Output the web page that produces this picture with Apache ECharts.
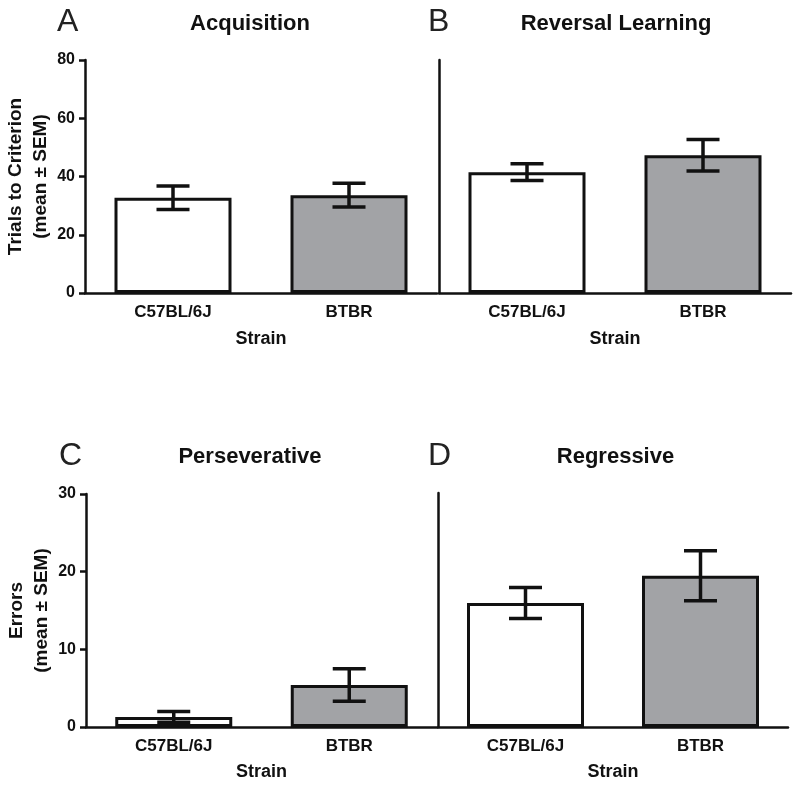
<!DOCTYPE html>
<html><head><meta charset="utf-8">
<script src="https://cdn.jsdelivr.net/npm/echarts@6/dist/echarts.min.js"></script>
<style>html,body{margin:0;padding:0;background:#fff}#c{width:800px;height:787px}</style>
</head><body><div id="c"></div>
<script>
const categories = ['C57BL/6J', 'BTBR'];
const panelLetters = ['A', 'B', 'C', 'D'];
const panelTitles = ['Acquisition', 'Reversal Learning', 'Perseverative', 'Regressive'];
const acqMean = [32.7, 33.6];
const acqSem = [4.0, 4.1];
const revMean = [41.5, 47.3];
const revSem = [2.9, 5.4];
const persMean = [1.3, 5.4];
const persSem = [0.7, 2.1];
const regrMean = [15.9, 19.4];
const regrSem = [2.0, 3.2];
const topTicks = [0, 20, 40, 60, 80];
const bottomTicks = [0, 10, 20, 30];

const FONT = '"Liberation Sans", Arial, sans-serif';
const barColors = ['#ffffff', '#a2a3a6'];
const panels = [
  {mean: acqMean, sem: acqSem, ticks: topTicks, yName: 'Trials to Criterion\n(mean ± SEM)', showY: true},
  {mean: revMean, sem: revSem, ticks: topTicks, yName: '', showY: false},
  {mean: persMean, sem: persSem, ticks: bottomTicks, yName: 'Errors\n(mean ± SEM)', showY: true},
  {mean: regrMean, sem: regrSem, ticks: bottomTicks, yName: '', showY: false}
];
const grids = [
  {left: 85, right: 363, top: 60, bottom: 494},
  {left: 439, right: 9, top: 60, bottom: 494},
  {left: 86, right: 363, top: 494, bottom: 60},
  {left: 438, right: 12, top: 493, bottom: 60}
];
const titlePos = [
  {letter: [52, 1], title: [245, 8]},
  {letter: [423, 1], title: [611, 8]},
  {letter: [54, 435], title: [245, 441]},
  {letter: [423, 435], title: [610.5, 441]}
];

const option = {
  backgroundColor: '#ffffff',
  animation: false,
  title: [],
  grid: grids.map(g => Object.assign({containLabel: false, outerBoundsMode: 'none'}, g)),
  xAxis: [], yAxis: [], series: []
};

panels.forEach((p, i) => {
  option.title.push({text: panelLetters[i], left: titlePos[i].letter[0], top: titlePos[i].letter[1],
    textStyle: {fontFamily: FONT, fontWeight: 'normal', fontSize: 32, color: '#222'}});
  option.title.push({text: panelTitles[i], left: titlePos[i].title[0], top: titlePos[i].title[1], textAlign: 'center',
    textStyle: {fontFamily: FONT, fontWeight: 'bold', fontSize: 22, color: '#111'}});
  option.xAxis.push({
    type: 'category', gridIndex: i, data: categories,
    name: 'Strain', nameLocation: 'middle', nameGap: i < 2 ? 37 : 36,
    nameTextStyle: {fontFamily: FONT, fontWeight: 'bold', fontSize: 18, color: '#111'},
    axisLine: {lineStyle: {color: '#111', width: 2.5}},
    axisTick: {alignWithLabel: true, length: 8, lineStyle: {color: '#111', width: 2.5}},
    axisLabel: {fontFamily: FONT, fontWeight: 'bold', fontSize: 17, color: '#111', margin: 11},
    splitLine: {show: false}
  });
  const tk = p.ticks;
  option.yAxis.push({
    type: 'value', gridIndex: i, min: tk[0], max: tk[tk.length - 1], interval: tk[1] - tk[0],
    name: p.yName, nameLocation: 'middle', nameGap: 28, nameRotate: 90,
    nameTextStyle: {fontFamily: FONT, fontWeight: 'bold', fontSize: 19, color: '#111', lineHeight: 25},
    axisLine: {show: true, lineStyle: {color: '#111', width: 2.5}},
    axisTick: {show: p.showY, length: 6, lineStyle: {color: '#111', width: 2.5}},
    axisLabel: {show: p.showY, fontFamily: FONT, fontWeight: 'bold', fontSize: 16, color: '#111', margin: 10},
    splitLine: {show: false}
  });
  option.series.push({
    type: 'bar', xAxisIndex: i, yAxisIndex: i, barWidth: 117,
    data: p.mean.map((v, k) => ({value: v, itemStyle: {color: barColors[k], borderColor: '#111', borderWidth: 3}}))
  });
  option.series.push({
    type: 'custom', xAxisIndex: i, yAxisIndex: i, z: 10,
    data: p.mean.map((v, k) => [k, v - p.sem[k], v + p.sem[k]]),
    renderItem: function (params, api) {
      const lo = api.coord([api.value(0), api.value(1)]);
      const hi = api.coord([api.value(0), api.value(2)]);
      const hw = 16.5;
      const st = {stroke: '#111', lineWidth: 3.5, fill: null};
      return {type: 'group', children: [
        {type: 'line', shape: {x1: lo[0], y1: lo[1], x2: hi[0], y2: hi[1]}, style: st},
        {type: 'line', shape: {x1: lo[0] - hw, y1: lo[1], x2: lo[0] + hw, y2: lo[1]}, style: st},
        {type: 'line', shape: {x1: hi[0] - hw, y1: hi[1], x2: hi[0] + hw, y2: hi[1]}, style: st}
      ]};
    }
  });
});

const chart = echarts.init(document.getElementById('c'), null, {renderer: 'canvas'});
chart.setOption(option);
</script></body></html>
